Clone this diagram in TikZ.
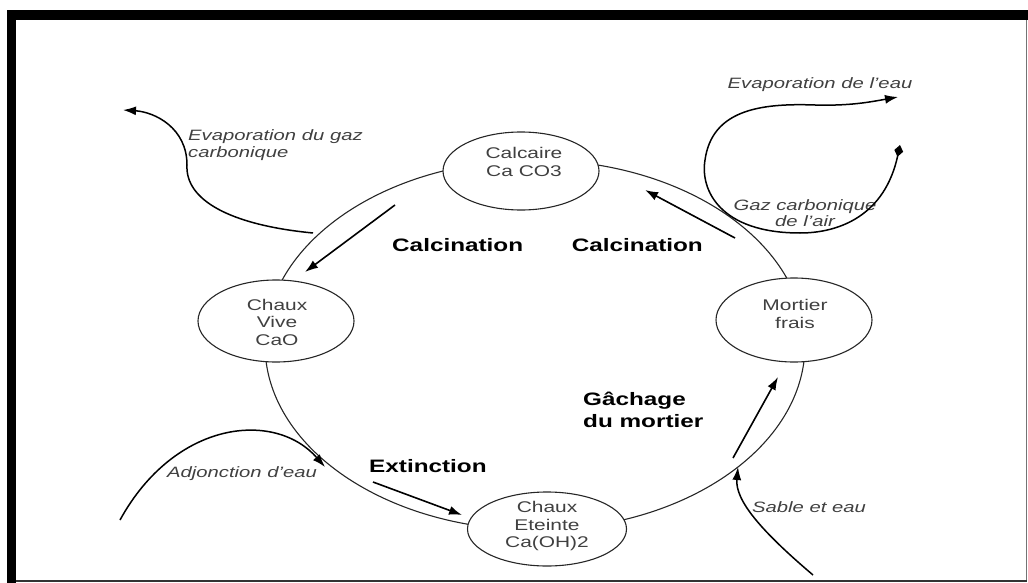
\documentclass[tikz,border=0pt]{standalone}
\usepackage{fontspec}
\setmainfont{Liberation Sans}[FakeStretch=1.35]
\usetikzlibrary{arrows.meta,shapes.geometric}
\tikzset{
  stagebox/.style={ellipse,draw=black!85,line width=1.1pt,fill=white,
    minimum width=156,minimum height=80,inner sep=0pt},
  stagetext/.style={align=center,inner sep=0pt,text=black!75,
    font=\fontsize{15.5}{17.5}\selectfont},
  cyclelab/.style={inner sep=0pt,font=\fontsize{18}{22}\selectfont\bfseries},
  sidelab/.style={inner sep=0pt,text=black!75,font=\fontsize{15}{16.5}\selectfont\itshape},
  turn/.style={-{Latex[length=13pt,width=9pt]},line width=1.6pt},
  feed/.style={line width=1.5pt}
}
\begin{document}
\begin{tikzpicture}[x=1pt,y=-1pt]
  \useasboundingbox (0,0) rectangle (1028,583);
  % frame
  \fill (7,10) rectangle (1028,20);
  \fill (7,10) rectangle (16,583);
  \draw[black!55,line width=1pt] (1026,20) -- (1026,581);
  \draw[black!80,line width=2pt] (16,581) -- (1027,581);
  % cycle and stages
  \draw[black!85,line width=1.1pt] (535,345) ellipse [x radius=270,y radius=185];
  \node[stagebox,minimum height=78] (calc) at (521,171) {};
  \node[stagetext] (calct) at (524,162) {Calcaire\\Ca CO3};
  \node[stagebox,minimum height=82] (vive) at (276,321) {};
  \node[stagetext] (vivet) at (277,322) {Chaux\\Vive\\CaO};
  \node[stagebox,minimum height=74,minimum width=159] (eteinte) at (547,529) {};
  \node[stagetext] (eteintet) at (547,526) {Chaux\\Eteinte\\Ca(OH)2};
  \node[stagebox,minimum height=84] (mortier) at (794,320) {};
  \node[stagetext] (mortiert) at (795,314) {Mortier\\frais};
  % reactions
  \node[cyclelab,anchor=west] (calcl) at (392,245) {Calcination};
  \node[cyclelab,anchor=east] (calcr) at (703,245) {Calcination};
  \node[cyclelab,anchor=west] (ext) at (369,466) {Extinction};
  \node[cyclelab,anchor=west,align=left] (gach) at (583,410) {Gâchage\\du mortier};
  \coordinate (t1a) at (395,205); \coordinate (t1b) at (305,272);
  \coordinate (t2a) at (735,238); \coordinate (t2b) at (645,190);
  \coordinate (t3a) at (373,482); \coordinate (t3b) at (462,515);
  \coordinate (t4a) at (733,458); \coordinate (t4b) at (778,377);
  \foreach \a/\b in {t1a/t1b,t2a/t2b,t3a/t3b,t4a/t4b}
    \draw[turn] (\a) -- (\b);
  % exchanges with outside
  \node[sidelab,anchor=west,align=left] (co2) at (188,145) {Evaporation du gaz\\carbonique};
  \node[sidelab] (h2o) at (820,85) {Evaporation de l'eau};
  \node[sidelab,align=center] (air) at (805,213) {Gaz carbonique\\de l'air};
  \node[sidelab,anchor=west] (adj) at (167,474) {Adjonction d'eau};
  \node[sidelab,anchor=west] (sable) at (752,507) {Sable et eau};
  \coordinate (co2a) at (313,233); \coordinate (co2b) at (123,110);
  \draw[feed,-{Latex[length=13pt,width=9pt]}] (co2a)
    .. controls (230,225) and (185,200) .. (187,165)
    .. controls (187,128) and (155,112) .. (co2b);
  \coordinate (aira) at (900,145); \coordinate (airb) at (898,97);
  \draw[feed,{Diamond[length=12pt,width=9pt]}-{Latex[length=13pt,width=9pt]}] (aira)
    .. controls (885,215) and (840,233) .. (800,233)
    .. controls (720,233) and (700,190) .. (705,160)
    .. controls (712,110) and (760,103) .. (815,105)
    .. controls (850,106) and (870,102) .. (airb);
  \coordinate (adja) at (120,520); \coordinate (adjb) at (325,467);
  \draw[feed,-{Latex[length=13pt,width=9pt]}] (adja)
    .. controls (175,420) and (275,410) .. (adjb);
  \coordinate (sablea) at (813,575); \coordinate (sableb) at (738,467);
  \draw[feed,-{Latex[length=13pt,width=9pt]}] (sablea)
    .. controls (760,530) and (735,500) .. (sableb);
\end{tikzpicture}
\end{document}
